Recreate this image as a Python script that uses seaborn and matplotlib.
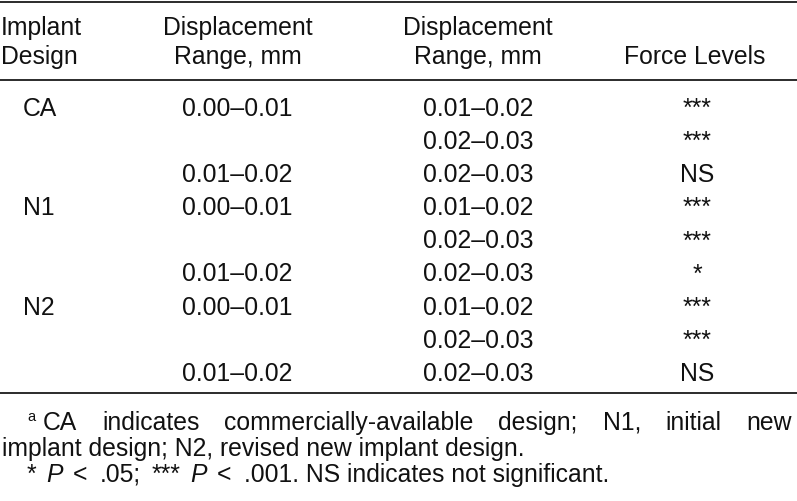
import matplotlib
matplotlib.use("Agg")
import matplotlib.pyplot as plt
import seaborn as sns

# ---- table contents ----
header_line1 = ["Implant", "Displacement", "Displacement", ""]
header_line2 = ["Design", "Range, mm", "Range, mm", "Force Levels"]

designs = ["CA", "", "", "N1", "", "", "N2", "", ""]
range_from = ["0.00–0.01", "", "0.01–0.02",
              "0.00–0.01", "", "0.01–0.02",
              "0.00–0.01", "", "0.01–0.02"]
range_to = ["0.01–0.02", "0.02–0.03", "0.02–0.03",
            "0.01–0.02", "0.02–0.03", "0.02–0.03",
            "0.01–0.02", "0.02–0.03", "0.02–0.03"]
force_levels = ["***", "***", "NS", "***", "***", "*", "***", "***", "NS"]

note_a_words = ["CA", "indicates", "commercially-available", "design;",
                "N1,", "initial", "new"]
note_a_line2 = "implant design; N2, revised new implant design."
# (text, style, gap after in px)
note_p_runs = [("*", "normal", 10), ("P", "italic", 10), ("<", "normal", 12),
               (".05;", "normal", 11), ("***", "normal", 10), ("P", "italic", 10),
               ("<", "normal", 12), (".001. NS indicates not significant.", "normal", 0)]

# ---- style ----
sns.set_theme(style="white")
plt.rcParams["font.family"] = ["Liberation Sans", "DejaVu Sans"]
FS = 17.8
INK = "#111111"

W, H = 797, 502
fig = plt.figure(figsize=(W / 100, H / 100), dpi=100)
ax = fig.add_axes([0, 0, 1, 1])
ax.set_xlim(0, W)
ax.set_ylim(H, 0)
ax.axis("off")

# rules
ax.hlines([2.5, 80.5, 394], 0, W, color="#1a1a1a", lw=1.3)

# header
col_x = [1, 238, 478, 695]
col_ha = ["left", "center", "center", "center"]
for x, ha, t1, t2 in zip(col_x, col_ha, header_line1, header_line2):
    ax.text(x, 35, t1, ha=ha, va="baseline", fontsize=FS, color=INK)
    ax.text(x, 64, t2, ha=ha, va="baseline", fontsize=FS, color=INK)

# body
row0, step = 116, 33.1
data_x = [23, 237, 478, 697]
for i, row in enumerate(zip(designs, range_from, range_to, force_levels)):
    y = row0 + i * step
    for x, ha, txt in zip(data_x, col_ha, row):
        if txt:
            ax.text(x, y, txt, ha=ha, va="baseline", fontsize=FS, color=INK)

# footnotes
fig.canvas.draw()
renderer = fig.canvas.get_renderer()


def width_of(t):
    return t.get_window_extent(renderer=renderer).width


ax.text(27, 421, "a", ha="left", va="baseline", fontsize=10.5, color=INK)

# first note line is justified between x0 and x1
x0, x1, yb = 43, 792, 430
words = [ax.text(0, yb, w, ha="left", va="baseline", fontsize=FS, color=INK)
         for w in note_a_words]
widths = [width_of(t) for t in words]
gap = (x1 - x0 - sum(widths)) / (len(words) - 1)
x = x0
for t, w in zip(words, widths):
    t.set_x(x)
    x += w + gap

ax.text(2, 456, note_a_line2, ha="left", va="baseline", fontsize=FS, color=INK)

x = 27
for txt, style, after in note_p_runs:
    t = ax.text(x, 482, txt, ha="left", va="baseline", fontsize=FS,
                style=style, color=INK)
    x += width_of(t) + after

fig.savefig("out.png", dpi=100)
